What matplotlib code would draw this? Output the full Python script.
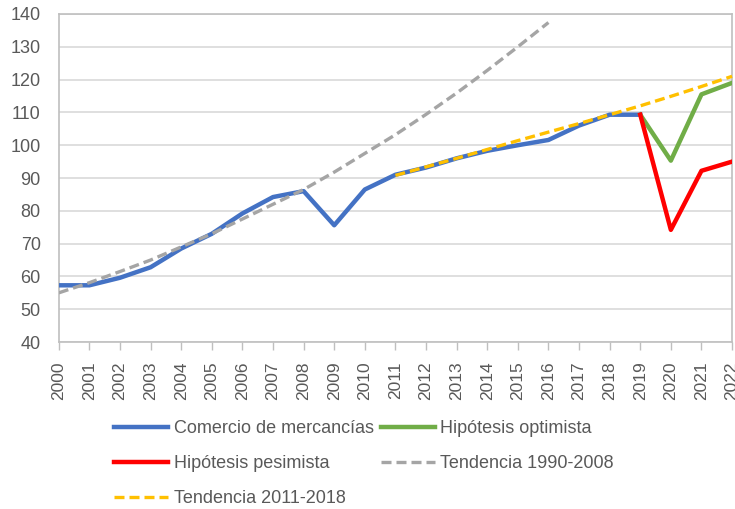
import numpy as np
import matplotlib.pyplot as plt

plt.rcParams['font.family'] = ['Liberation Sans', 'DejaVu Sans']

# datos (índice)
years = list(range(2000, 2023))
comercio_years = list(range(2000, 2020))
comercio = [57.3, 57.3, 59.6, 62.8, 68.5, 73.0, 79.2, 84.2, 86.0, 75.6,
            86.5, 91.0, 93.2, 96.0, 98.3, 100.0, 101.6, 106.0, 109.3, 109.3]
escenario_years = [2019, 2020, 2021, 2022]
optimista = [109.3, 95.3, 115.5, 119.0]
pesimista = [109.3, 74.2, 92.2, 95.0]
tend1_years = list(range(2000, 2017))
tend_1990_2008 = [55.0, 58.1, 61.5, 65.0, 69.0, 73.0, 77.5, 82.0, 86.5, 91.8,
                  97.5, 103.2, 109.4, 115.9, 122.8, 130.0, 137.4]
tend2_years = list(range(2011, 2023))
tend_2011_2018 = [90.8, 93.4, 96.0, 98.7, 101.4, 104.0, 106.6, 109.3,
                  112.0, 114.9, 117.9, 121.0]

txt = '#595959'

fig = plt.figure(figsize=(7.35, 5.09), dpi=100)
ax = fig.add_axes([0.080, 0.328, 0.916, 0.6445])

l_com, = ax.plot(comercio_years, comercio, color='#4472C4', lw=3.2, zorder=3,
                 solid_joinstyle='round', label='Comercio de mercancías')
l_opt, = ax.plot(escenario_years, optimista, color='#70AD47', lw=3.2, zorder=3,
                 label='Hipótesis optimista')
l_pes, = ax.plot(escenario_years, pesimista, color='#FF0000', lw=3.2, zorder=3,
                 label='Hipótesis pesimista')
l_t1, = ax.plot(tend1_years, tend_1990_2008, color='#A5A5A5', lw=2.4, ls=(0, (3, 1.5)),
                zorder=4, label='Tendencia 1990-2008')
l_t2, = ax.plot(tend2_years, tend_2011_2018, color='#FFC000', lw=2.4, ls=(0, (3, 1.5)),
                zorder=4, label='Tendencia 2011-2018', clip_on=False)

ax.set_xlim(2000, 2022)
ax.set_ylim(40, 140)
ax.set_yticks(np.arange(40, 141, 10))
ax.set_xticks(years)
ax.set_xticklabels([str(y) for y in years], rotation=90)
ax.grid(axis='y', color='#D9D9D9', lw=1.2)
ax.set_axisbelow(True)

for s in ['left', 'right', 'top', 'bottom']:
    ax.spines[s].set_color('#BFBFBF')
    ax.spines[s].set_linewidth(1.2)

ax.tick_params(axis='y', length=0, pad=13, labelsize=13, labelcolor=txt)
ax.tick_params(axis='x', length=6, width=1, color='#BFBFBF', pad=8,
               labelsize=12.5, labelcolor=txt)

# leyenda en dos columnas (orden por columnas)
handles = [l_com, l_pes, l_t2, l_opt, l_t1]
leg = fig.legend(handles=handles, loc='upper left', bbox_to_anchor=(0.155, 0.175),
                 ncol=2, frameon=False, fontsize=13, handlelength=3.0,
                 handletextpad=0.3, columnspacing=0.4, labelspacing=1.0,
                 borderpad=0, borderaxespad=0)
for t in leg.get_texts():
    t.set_color(txt)

fig.savefig('out.png', dpi=100)
